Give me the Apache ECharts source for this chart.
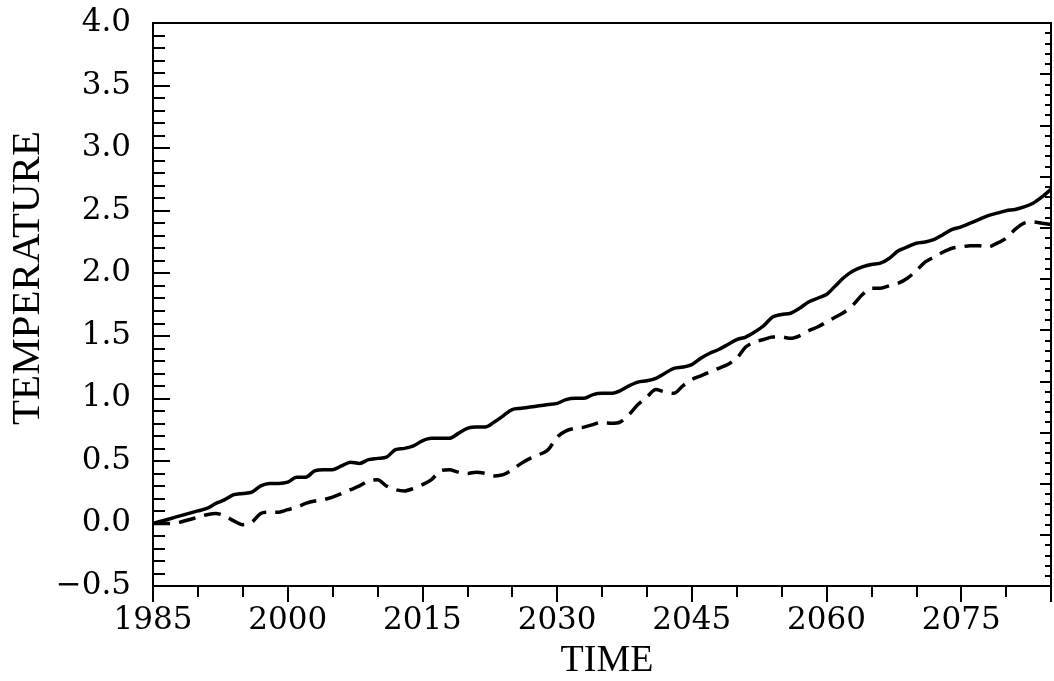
<!DOCTYPE html>
<html>
<head>
<meta charset="utf-8">
<script src="https://cdn.jsdelivr.net/npm/echarts@6/dist/echarts.min.js"></script>
<style>html,body{margin:0;padding:0;background:#fff}#c{width:1054px;height:681px}</style>
</head>
<body>
<div id="c"></div>
<script>
const years = [];
for (let y = 1985; y <= 2085; y++) years.push(y);

const solidValues = [
0.00,0.02,0.04,0.06,0.08,0.10,0.12,0.16,0.19,0.23,
0.24,0.25,0.30,0.32,0.32,0.33,0.37,0.37,0.42,0.43,
0.43,0.46,0.49,0.48,0.51,0.52,0.53,0.59,0.60,0.62,
0.66,0.68,0.68,0.68,0.72,0.76,0.77,0.77,0.81,0.86,
0.91,0.92,0.93,0.94,0.95,0.96,0.99,1.00,1.00,1.03,
1.04,1.04,1.06,1.10,1.13,1.14,1.16,1.20,1.24,1.25,
1.27,1.32,1.36,1.39,1.43,1.47,1.49,1.53,1.58,1.65,
1.67,1.68,1.72,1.77,1.80,1.83,1.90,1.97,2.02,2.05,
2.07,2.08,2.12,2.18,2.21,2.24,2.25,2.27,2.31,2.35,
2.37,2.40,2.43,2.46,2.48,2.50,2.51,2.53,2.56,2.61,
2.67];

const dashedValues = [
0.00,0.00,0.00,0.01,0.03,0.05,0.07,0.08,0.06,0.02,
-0.01,0.01,0.08,0.09,0.09,0.11,0.13,0.16,0.18,0.19,
0.21,0.24,0.27,0.30,0.34,0.35,0.30,0.27,0.26,0.28,
0.31,0.35,0.42,0.43,0.41,0.40,0.41,0.40,0.38,0.39,
0.43,0.48,0.52,0.55,0.59,0.69,0.74,0.76,0.77,0.79,
0.81,0.80,0.81,0.87,0.95,1.01,1.07,1.05,1.04,1.10,
1.15,1.18,1.21,1.24,1.27,1.32,1.41,1.45,1.47,1.49,
1.49,1.48,1.50,1.54,1.57,1.61,1.65,1.69,1.75,1.83,
1.88,1.88,1.90,1.92,1.96,2.02,2.09,2.13,2.17,2.20,
2.21,2.22,2.22,2.21,2.24,2.28,2.35,2.40,2.41,2.40,
2.39];

const xTickLabels = [1985, 2000, 2015, 2030, 2045, 2060, 2075];
const yTickLabels = ['\u22120.5','0.0','0.5','1.0','1.5','2.0','2.5','3.0','3.5','4.0'];
const xTitle = 'TIME';
const yTitle = 'TEMPERATURE';

const solidData = years.map((y, i) => [y, solidValues[i]]);
const dashedData = years.map((y, i) => [y, dashedValues[i]]);

const chart = echarts.init(document.getElementById('c'), null, {renderer: 'canvas'});
const labelFont = {fontFamily: 'DejaVu Serif', fontSize: 31, color: '#000'};

chart.setOption({
  animation: false,
  backgroundColor: '#fff',
  grid: {left: 153, right: 2, top: 23, bottom: 95, show: true, borderColor: '#000', borderWidth: 2, containLabel: false},
  xAxis: {
    type: 'value', min: 1985, max: 2085, interval: 15,
    axisLine: {show: true, onZero: false, lineStyle: {color: '#000', width: 2}},
    axisTick: {show: true, inside: false, length: 16, lineStyle: {color: '#000', width: 2}},
    minorTick: {show: true, splitNumber: 3, length: 11, lineStyle: {color: '#000', width: 2}},
    splitLine: {show: false},
    axisLabel: Object.assign({margin: 19, formatter: v => xTickLabels.indexOf(v) >= 0 ? String(v) : ''}, labelFont)
  },
  yAxis: [{
    type: 'value', min: -0.5, max: 4, interval: 0.5, position: 'left',
    axisLine: {show: true, onZero: false, lineStyle: {color: '#000', width: 2}},
    axisTick: {show: true, inside: true, length: 17, lineStyle: {color: '#000', width: 2}},
    minorTick: {show: true, splitNumber: 5, length: 12, lineStyle: {color: '#000', width: 2}},
    splitLine: {show: false},
    axisLabel: Object.assign({margin: 22, formatter: v => yTickLabels[Math.round((v + 0.5) / 0.5)]}, labelFont)
  }, {
    type: 'value', min: 0, max: 11, interval: 1, position: 'right',
    axisLine: {show: true, onZero: false, lineStyle: {color: '#000', width: 2}},
    axisTick: {show: true, inside: true, length: 11, lineStyle: {color: '#000', width: 2}},
    minorTick: {show: true, splitNumber: 5, length: 6, lineStyle: {color: '#000', width: 2}},
    splitLine: {show: false},
    axisLabel: {show: false}
  }],
  graphic: [
    {type: 'text', x: 28, y: 278, rotation: Math.PI / 2,
     style: {text: yTitle, fontFamily: 'Liberation Serif', fontSize: 41, fill: '#000', textAlign: 'center', textVerticalAlign: 'middle'}},
    {type: 'text', x: 607, y: 661,
     style: {text: xTitle, fontFamily: 'Liberation Serif', fontSize: 38, fill: '#000', textAlign: 'center', textVerticalAlign: 'middle'}}
  ],
  series: [{
    type: 'line', data: solidData, yAxisIndex: 0, showSymbol: false, smooth: 0.3,
    lineStyle: {color: '#000', width: 3.5, type: 'solid'}
  }, {
    type: 'line', data: dashedData, yAxisIndex: 0, showSymbol: false, smooth: 0.3,
    lineStyle: {color: '#000', width: 3.5, type: [17, 9]}
  }]
});
</script>
</body>
</html>
